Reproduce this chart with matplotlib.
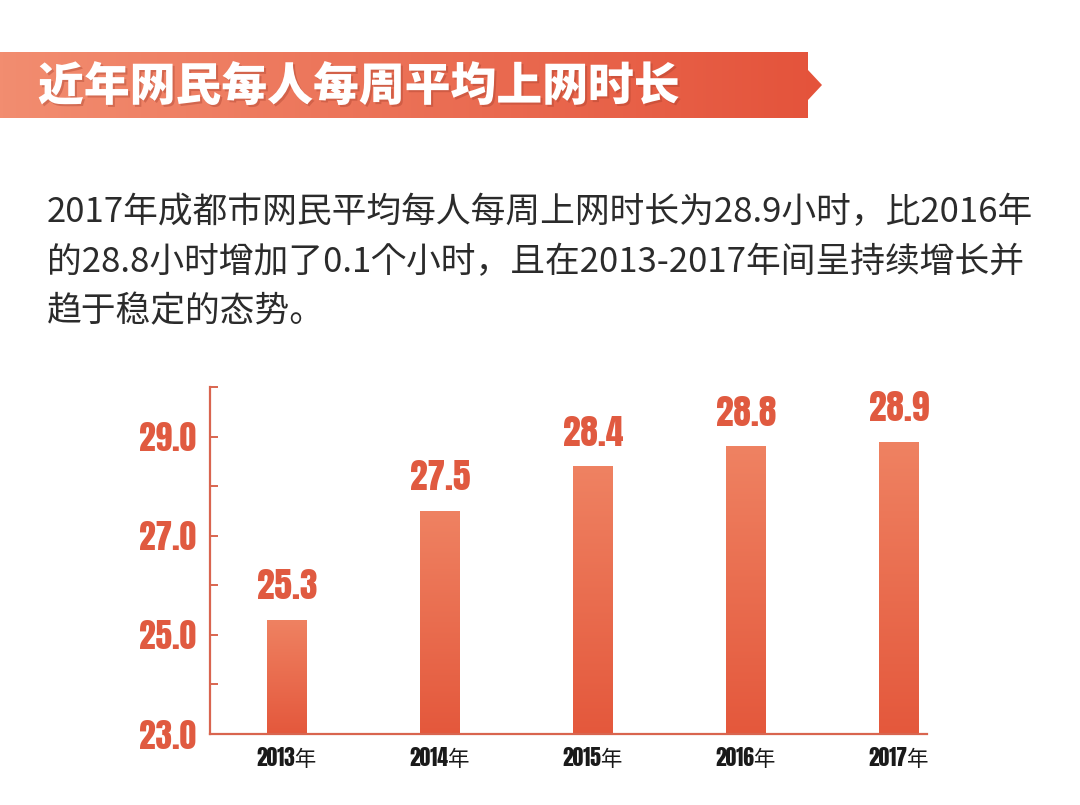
import numpy as np
import matplotlib
matplotlib.use("Agg")
import matplotlib.pyplot as plt
from matplotlib import font_manager
from matplotlib.patches import Polygon
from matplotlib.colors import LinearSegmentedColormap
import matplotlib.patheffects as pe

# ---------------------------------------------------------------------
# Data
# ---------------------------------------------------------------------
years = ["2013年", "2014年", "2015年", "2016年", "2017年"]
hours = [25.3, 27.5, 28.4, 28.8, 28.9]
y_major = [23, 25, 27, 29]
y_minor = [24, 26, 28, 30]

title = "近年网民每人每周平均上网时长"
paragraph = [
    "2017年成都市网民平均每人每周上网时长为28.9小时，比2016年",
    "的28.8小时增加了0.1个小时，且在2013-2017年间呈持续增长并",
    "趋于稳定的态势。",
]

# ---------------------------------------------------------------------
# Fonts
# ---------------------------------------------------------------------
installed = {f.name for f in font_manager.fontManager.ttflist}
CJK = [n for n in ["Noto Sans CJK SC", "Noto Sans CJK JP"] if n in installed] or ["Noto Sans CJK SC"]
if "Anton" in installed:
    NUM = dict(family=["Anton"] + CJK, fontweight="normal")
else:
    NUM = dict(family=["DejaVu Sans"] + CJK, fontweight="bold", fontstretch="condensed")
plt.rcParams["font.family"] = CJK + ["DejaVu Sans"]

RED = "#e05a40"
AXIS = "#d9654f"
bar_cmap = LinearSegmentedColormap.from_list("bar", ["#ef8262", "#e4583c"])
banner_cmap = LinearSegmentedColormap.from_list("banner", ["#f28d70", "#e4533b"])

W, H = 1080, 805
fig = plt.figure(figsize=(W / 100, H / 100), dpi=100)
fig.patch.set_facecolor("white")

# background layer in pixel coordinates
bg = fig.add_axes([0, 0, 1, 1])
bg.set_xlim(0, W)
bg.set_ylim(H, 0)
bg.axis("off")

# title banner
banner = Polygon([(0, 52), (808, 52), (808, 70), (822, 85), (808, 100),
                  (808, 118), (0, 118)], closed=True, fc="none", ec="none")
bg.add_patch(banner)
grad = np.linspace(0, 1, 256).reshape(1, -1)
im = bg.imshow(grad, cmap=banner_cmap, extent=(0, 822, 118, 52), aspect="auto")
im.set_clip_path(banner)
bg.text(38, 87, title, color="white", fontsize=33, fontweight="heavy",
        family=CJK + ["DejaVu Sans"], va="center", ha="left",
        path_effects=[pe.withSimplePatchShadow(offset=(1.5, -1.5),
                                               shadow_rgbFace="#a03a28", alpha=0.35)])

# paragraph
for i, line in enumerate(paragraph):
    bg.text(47, 213 + i * 49.5, line, color="#2b2b2b", fontsize=25,
            family=CJK + ["DejaVu Sans"], va="center", ha="left")

# ---------------------------------------------------------------------
# Chart
# ---------------------------------------------------------------------
ax = fig.add_axes([210 / W, 71 / H, 717 / W, 347 / H])
ax.patch.set_alpha(0)
x = np.arange(len(years))
bars = ax.bar(x, [h - 23 for h in hours], bottom=23, width=0.26,
              color="none", edgecolor="none", zorder=2)
vgrad = np.linspace(0, 1, 256).reshape(-1, 1)
for b in bars:
    x0, y0 = b.get_x(), b.get_y()
    gi = ax.imshow(vgrad, cmap=bar_cmap, aspect="auto", zorder=2,
                   extent=(x0, x0 + b.get_width(), y0, y0 + b.get_height()))
    gi.set_clip_path(b)

for xi, h in zip(x, hours):
    ax.annotate(f"{h:.1f}", (xi, h), xytext=(0, 12), textcoords="offset points",
                ha="center", va="bottom", color=RED, fontsize=25.5, **NUM)

ax.set_xlim(-0.503, 4.183)
ax.set_ylim(23, 30)
ax.set_yticks(y_major)
ax.set_yticklabels([f"{v:.1f}" for v in y_major])
ax.set_yticks(y_minor, minor=True)
ax.set_xticks(x)
ax.set_xticklabels(years)

for s in ["top", "right"]:
    ax.spines[s].set_visible(False)
for s in ["left", "bottom"]:
    ax.spines[s].set_color(AXIS)
    ax.spines[s].set_linewidth(1.6)

ax.tick_params(axis="y", which="both", direction="in", length=6, width=1.4,
               color=AXIS, pad=10)
ax.tick_params(axis="x", length=0, pad=9)
for lab in ax.get_yticklabels():
    lab.set_family(NUM["family"])
    lab.set_fontweight(NUM["fontweight"])
    if "fontstretch" in NUM:
        lab.set_fontstretch(NUM["fontstretch"])
    lab.set_fontsize(24)
    lab.set_color(RED)
for lab in ax.get_xticklabels():
    lab.set_family(NUM["family"])
    lab.set_fontweight(NUM["fontweight"])
    if "fontstretch" in NUM:
        lab.set_fontstretch(NUM["fontstretch"])
    lab.set_fontsize(15.5)
    lab.set_color("#1a1a1a")

fig.savefig("out.png", dpi=100, facecolor="white")
